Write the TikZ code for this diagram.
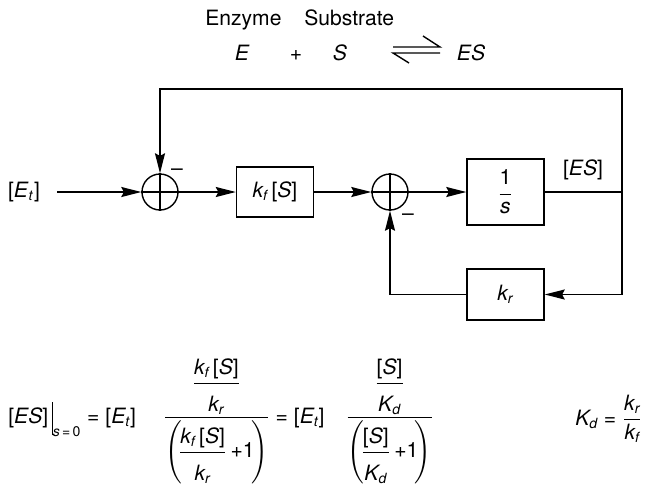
\documentclass[tikz,border=0pt]{standalone}
\usepackage{amsmath}
\usepackage{fontspec}
\setmainfont{TeX Gyre Heros}
\usetikzlibrary{arrows.meta,calc,positioning}
\newcommand{\kf}{\text{\itshape k\textsubscript{f}}}
\newcommand{\kr}{\text{\itshape k\textsubscript{r}}}
\newcommand{\Kd}{\text{\itshape K\textsubscript{d}}}
\newcommand{\Sb}{\text{[\itshape S\upshape]}}
\newcommand{\Et}{\text{[\itshape E\textsubscript{t}\upshape]}}
\newcommand{\ESb}{\text{[\itshape ES\upshape]}}
\newcommand{\eqs}{\mathrel{\text{=}}}
\newcommand{\ffr}[2]{\dfrac{#1\rule[-0.4ex]{0pt}{0pt}}{\rule{0pt}{2.3ex}#2}}
\newcommand{\bigfr}[2]{\dfrac{\ffr{#1}{#2}\rule[-0.8ex]{0pt}{0pt}}%
  {\Bigg(\!\ffr{#1}{#2}\text{\,+1}\!\Bigg)}}
\tikzset{blk/.style={draw,line width=0.8pt,minimum width=1.54cm,inner sep=2pt},
  sumj/.style={draw,circle,line width=0.8pt,minimum size=0.72cm,inner sep=0pt},
  sig/.style={line width=0.8pt,-{Stealth[length=0.4cm,width=0.2cm,inset=0.05cm]}},
  wire/.style={line width=0.8pt}}

\begin{document}
\begin{tikzpicture}[x=0.02cm,y=-0.02cm,font=\fontsize{12}{14}\selectfont]
\useasboundingbox (0,0) rectangle (653,488);
% reaction
\node[anchor=base west,inner sep=0pt] (enz) at (205,25) {Enzyme};
\node[anchor=base west,inner sep=0pt] (sub) at (304,25) {Substrate};
\node[anchor=base] (E) at (242,60) {\itshape E};
\node[anchor=base] (plus) at (296,60) {+};
\node[anchor=base] (S) at (340,60) {\itshape S};
\node[anchor=base] (ES) at (471,60) {\itshape ES};
\draw[wire] (393,47) -- (440,47) -- (423,36);
\draw[wire] (440,53) -- (393,53) -- (409,63);
% block diagram
\node (Et) at (24,192) {[\textit{E}\textsubscript{\textit{t}}]};
\coordinate (in) at (57,192);
\node[sumj] (s1) at (160,192) {};
\node[blk,minimum height=1cm] (kfS) at (275,192) {$\kf\,\Sb$};
\node[sumj] (s2) at (390,192) {};
\node[blk,minimum height=1.32cm] (integ) at (505.5,192) {$\dfrac{\text{1}}{\text{\itshape s}}$};
\node[blk,minimum height=1.02cm] (kr) at (505.5,294.5) {$\kr$};
\coordinate (br) at (622,192);
\coordinate (tr) at (622,89);
\coordinate (tl) at (160,89);
\coordinate (brb) at (622,294.5);
\coordinate (bl) at (390,294.5);
\foreach \s in {s1,s2}
  \draw[wire] (\s.north) -- (\s.south) (\s.west) -- (\s.east);
\draw[sig] (in) -- (s1);
\draw[sig] (s1) -- (kfS);
\draw[sig] (kfS) -- (s2);
\draw[sig] (s2) -- (integ);
\draw[wire] (integ) -- (br);
\draw[sig] (br) -- (tr) -- (tl) -- (s1);
\draw[sig] (br) -- (brb) -- (kr);
\draw[sig] (kr) -- (bl) -- (s2);
\node (ESlab) at (583,170) {[\textit{ES}]};
\node (m1) at (177,172) {–};
\node (m2) at (408,217) {–};
% steady state
\node[anchor=base west,inner sep=0pt] (eq) at (8,423) {$\ESb\,{\rule[-7pt]{0.6pt}{19pt}}_{\text{\itshape s\,\upshape=\,0}} \eqs \Et\quad\;
  \bigfr{\kf\,\Sb}{\kr} \eqs \Et\quad
  \bigfr{\Sb}{\Kd}$};
\node[anchor=base west,inner sep=0pt] (kd) at (575,425) {$\Kd \eqs \dfrac{\kr}{\kf}$};
\end{tikzpicture}
\end{document}
